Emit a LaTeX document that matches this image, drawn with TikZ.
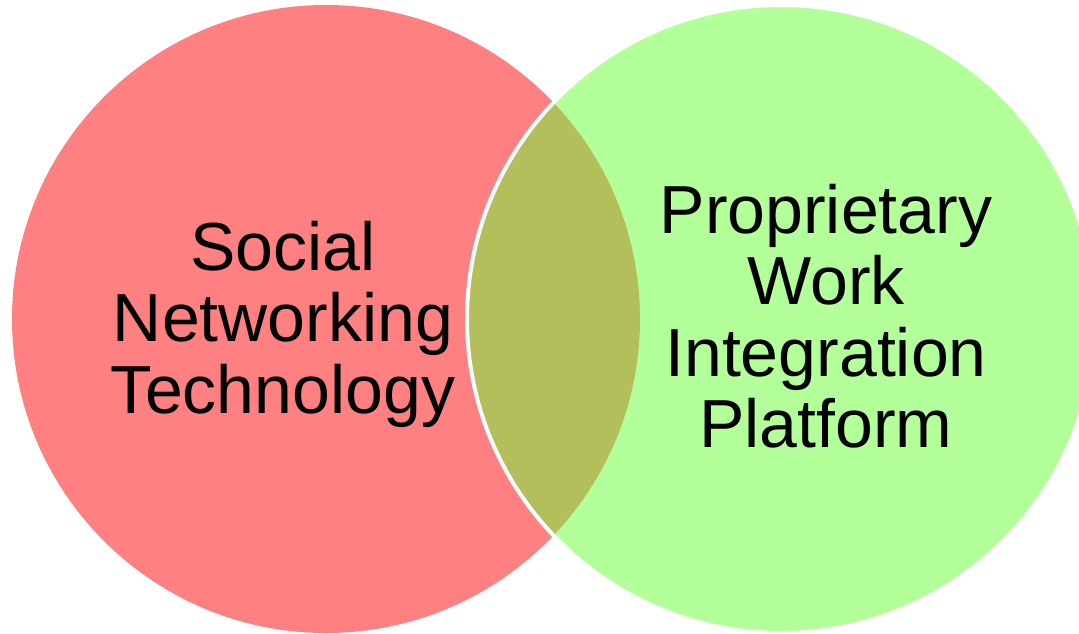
\documentclass[tikz,border=0pt]{standalone}
\usepackage{fontspec}
\setmainfont{Liberation Sans}

\definecolor{socialred}{HTML}{FF8080}
\definecolor{workgreen}{HTML}{B3FF99}
\definecolor{overlapolive}{HTML}{B3BF5A}

\tikzset{
    circle text/.style={align=center, inner sep=0pt, font=\fontsize{68}{71.5}\selectfont}
}

\begin{document}
\begin{tikzpicture}[x=1pt, y=-1pt]

    % Page size
    \useasboundingbox (0,0) rectangle (1079,633);

    % The two circles
    \fill[socialred] (326,319) circle[radius=314pt];
    \fill[workgreen] (781,319) circle[radius=314pt];

    % Overlap of the circles
    \begin{scope}
        \clip (326,319) circle[radius=314pt];
        \fill[overlapolive] (781,319) circle[radius=314pt];
    \end{scope}
    \draw[white, line width=4pt] (781,319) circle[radius=314pt];

    % Labels
    \node[circle text] (social) at (283,324) {Social\\Networking\\Technology};
    \node[circle text] (proprietary) at (826,316) {Proprietary\\Work\\Integration\\Platform};

\end{tikzpicture}
\end{document}
